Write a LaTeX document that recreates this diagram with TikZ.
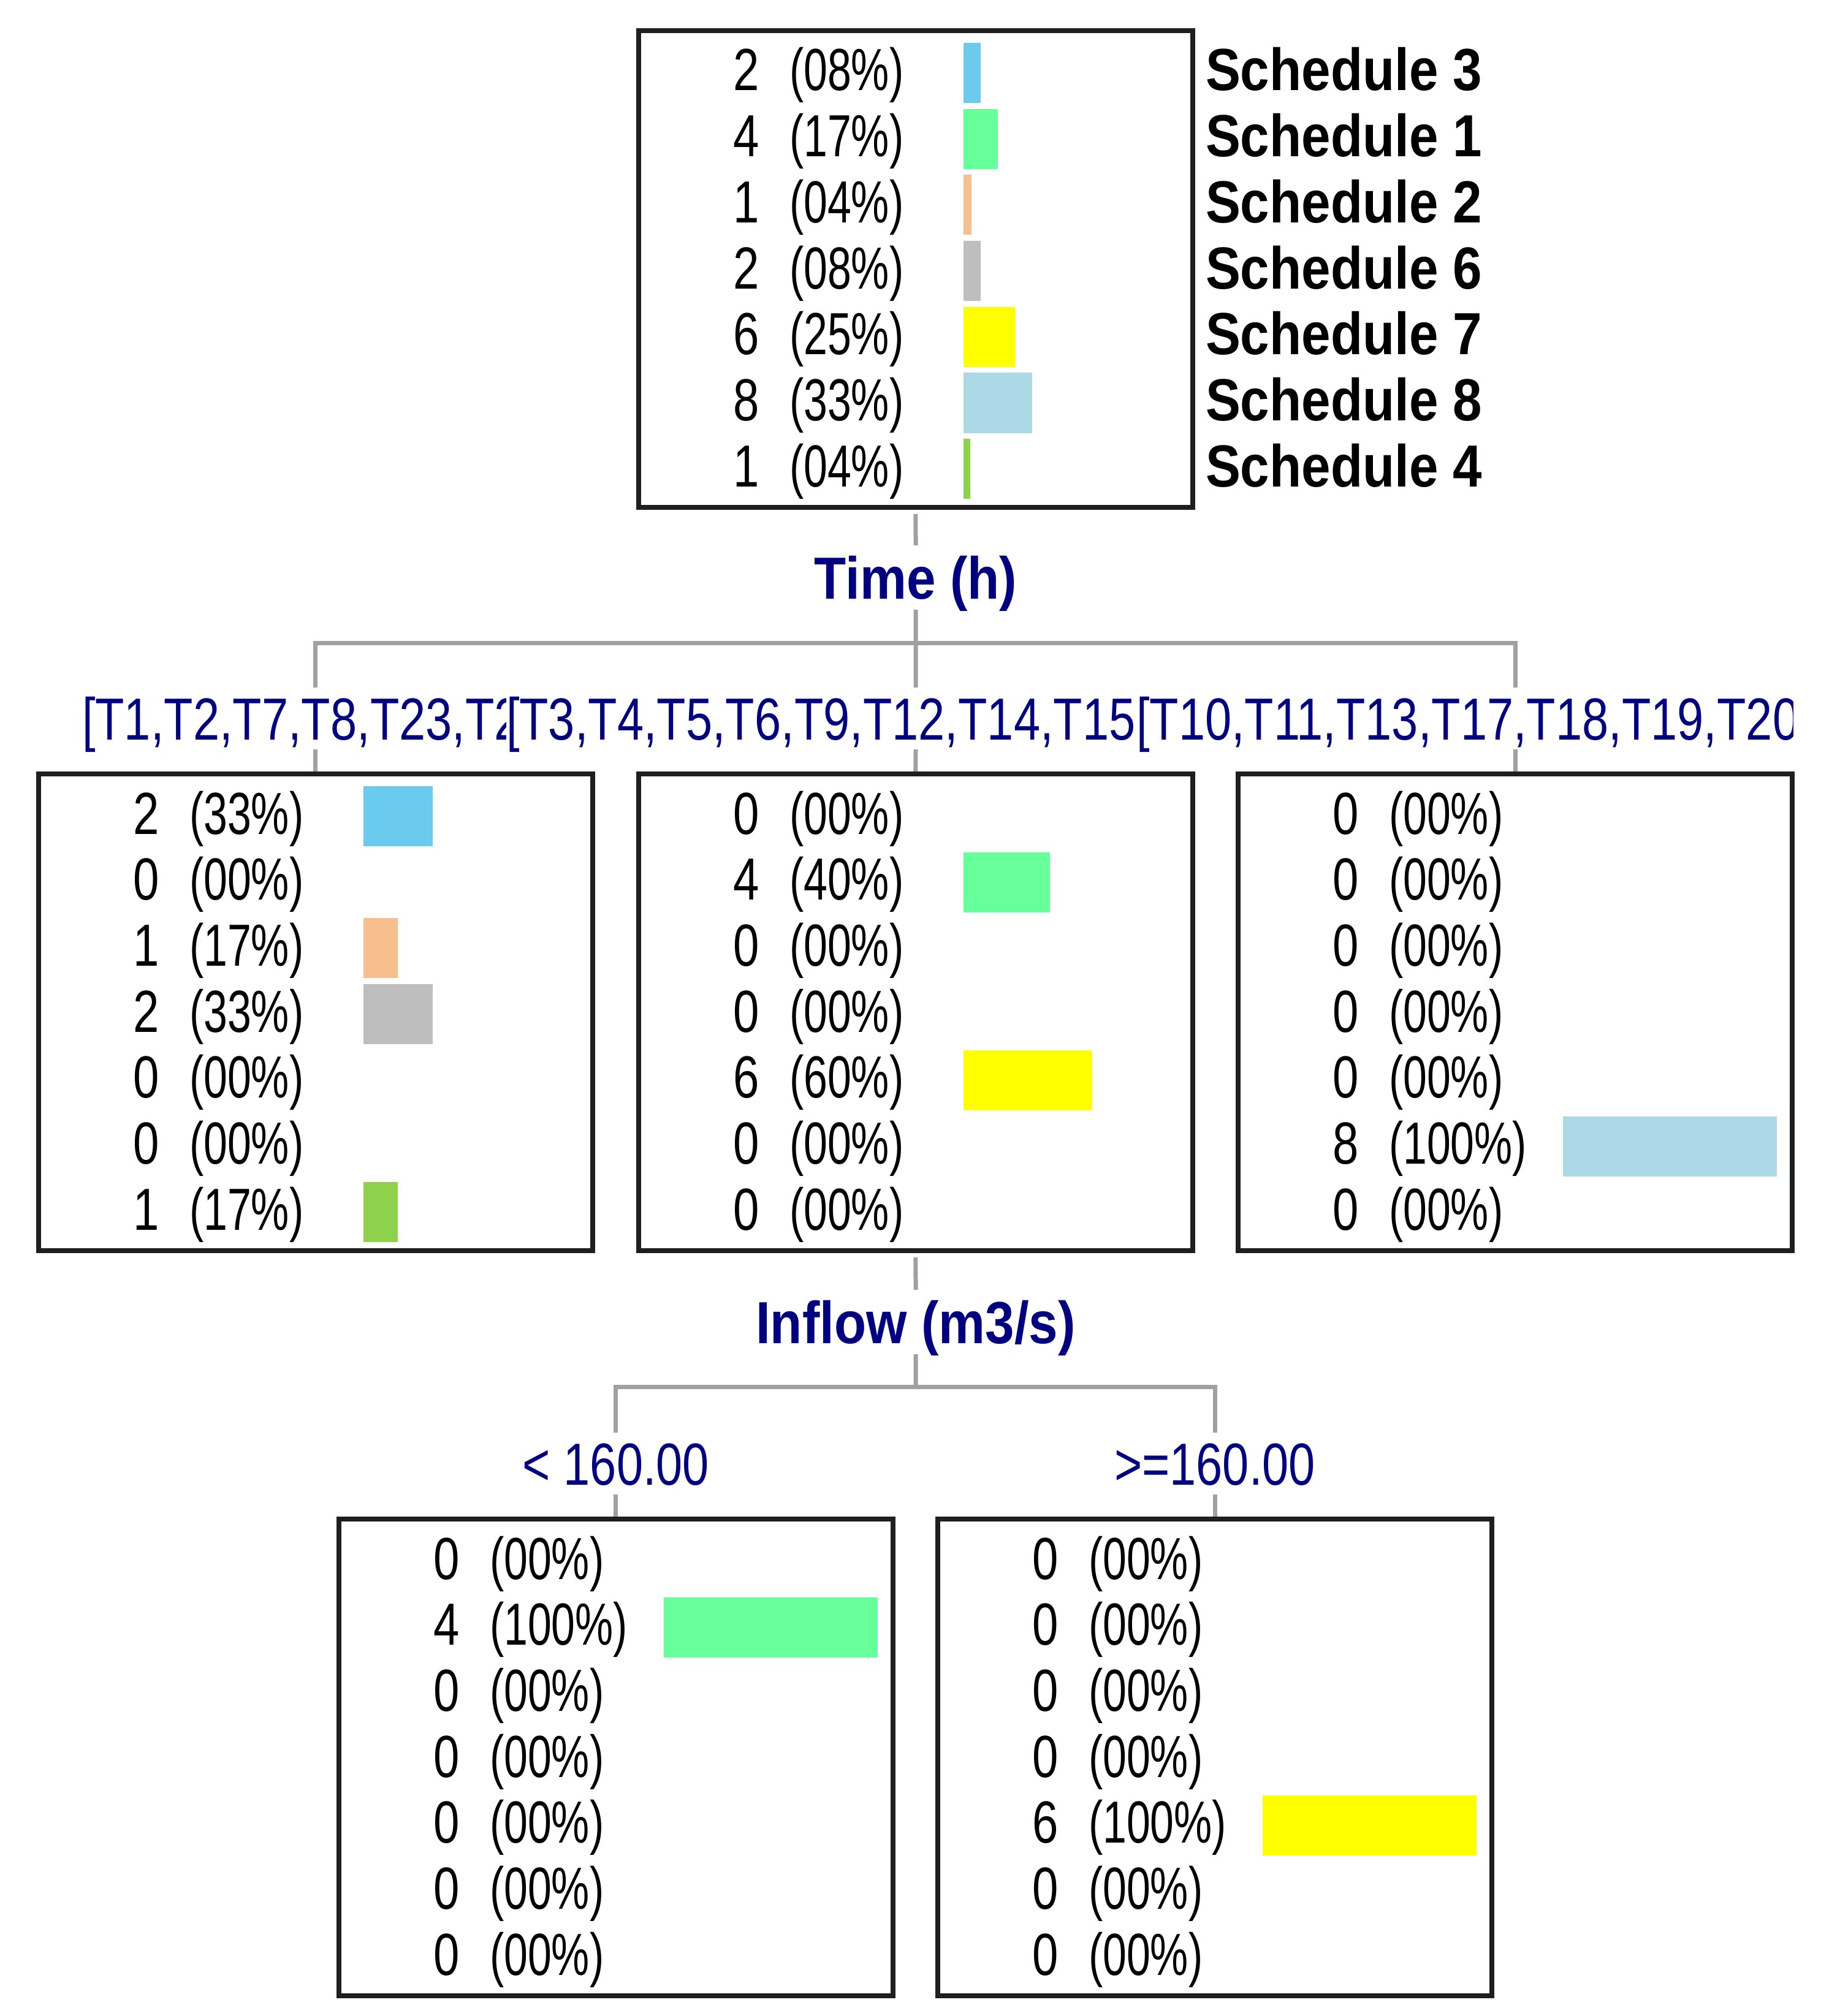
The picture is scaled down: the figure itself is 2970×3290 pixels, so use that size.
\documentclass[tikz,border=0pt]{standalone}
\usepackage{fontspec}
\usetikzlibrary{backgrounds}
\setmainfont{Liberation Sans}
\newfontfamily\nfont[FakeStretch=0.785]{Liberation Sans}
\newfontfamily\pfont[FakeStretch=0.72]{Liberation Sans}
\newfontfamily\lfont[FakeStretch=0.80]{Liberation Sans}
\newfontfamily\bfont[FakeStretch=0.88]{Liberation Sans Bold}
\definecolor{navy}{RGB}{0,0,128}
\definecolor{sA}{RGB}{106,203,239}
\definecolor{sB}{RGB}{102,255,153}
\definecolor{sC}{RGB}{247,190,142}
\definecolor{sD}{RGB}{190,190,190}
\definecolor{sE}{RGB}{255,255,0}
\definecolor{sF}{RGB}{173,216,230}
\definecolor{sG}{RGB}{142,209,75}
\definecolor{connc}{RGB}{160,160,160}
\tikzset{
  panel/.style={draw=black!88, line width=0.8pt, minimum width=90.4pt, minimum height=77.8pt, inner sep=0pt, outer sep=0pt, anchor=north west},
  numtxt/.style={font=\nfont\fontsize{9.7}{10}\selectfont, text=black, inner sep=0pt},
  pcttxt/.style={font=\pfont\fontsize{9.7}{10}\selectfont, text=black, inner sep=0pt},
  schtxt/.style={font=\bfont\fontsize{9.7}{10}\selectfont, text=black, inner sep=0pt, anchor=base west},
  attr/.style={font=\bfont\fontsize{9.7}{10}\selectfont, text=navy, fill=white, inner xsep=0.6pt, inner ysep=0pt, text height=8.7pt, text depth=1.8pt, anchor=base},
  branch/.style={font=\lfont\fontsize{9.7}{10}\selectfont, text=navy, fill=white, inner xsep=0pt, inner ysep=0pt, text height=8.5pt, text depth=1.6pt},
  cn/.style={draw=connc, line width=0.7pt},
}
\newcommand\panelrows[4]{%
  \foreach \vn/\vp/\vw/\vc [count=\vi from 0] in {#4} {
    \node[numtxt, anchor=base east] (#1n\vi) at (#2+198, #3+98+107.7*\vi) {\vn};
    \node[pcttxt, anchor=base west] (#1p\vi) at (#2+243, #3+98+107.7*\vi) {(\vp\%)};
    \ifnum\vw>0 \fill[\vc] (#2+529, #3+20+107.7*\vi) rectangle ++(\vw, 98);\fi
  }%
}
\begin{document}
\begin{tikzpicture}[x=0.1pt,y=-0.1pt]
\useasboundingbox (0,0) rectangle (2970,3290);
% panels
\node[panel] (top) at (1042,50) {};
\node[panel] (cL) at (63,1263) {};
\node[panel] (cM) at (1042,1263) {};
\node[panel] (cR) at (2020,1263) {};
\node[panel] (bL) at (553,2479) {};
\node[panel] (bR) at (1530,2479) {};
% rows
\panelrows{top}{1043}{50}{2/08/28/sA,4/17/56/sB,1/04/13/sC,2/08/28/sD,6/25/84/sE,8/33/112/sF,1/04/11/sG}
\panelrows{cL}{64}{1263}{2/33/113/sA,0/00/0/sB,1/17/56/sC,2/33/113/sD,0/00/0/sE,0/00/0/sF,1/17/56/sG}
\panelrows{cM}{1043}{1263}{0/00/0/sA,4/40/141/sB,0/00/0/sC,0/00/0/sD,6/60/210/sE,0/00/0/sF,0/00/0/sG}
\panelrows{cR}{2021}{1263}{0/00/0/sA,0/00/0/sB,0/00/0/sC,0/00/0/sD,0/00/0/sE,8/100/349/sF,0/00/0/sG}
\panelrows{bL}{554}{2479}{0/00/0/sA,4/100/349/sB,0/00/0/sC,0/00/0/sD,0/00/0/sE,0/00/0/sF,0/00/0/sG}
\panelrows{bR}{1531}{2479}{0/00/0/sA,0/00/0/sB,0/00/0/sC,0/00/0/sD,6/100/349/sE,0/00/0/sF,0/00/0/sG}
% schedule legend
\foreach \s [count=\si from 0] in {3,1,2,6,7,8,4}
  \node[schtxt] (sch\si) at (1965, 148+107.7*\si) {Schedule \s};
% split labels
\node[attr] (time) at (1494,977) {Time (h)};
\node[branch, anchor=base west] (l1) at (132,1207) {[T1,T2,T7,T8,T23,T2};
\node[branch, anchor=base west] (l2) at (824,1207) {[T3,T4,T5,T6,T9,T12,T14,T15};
\begin{scope}
\clip (1852,1100) rectangle (2925,1240);
\node[branch, anchor=base west] (l3) at (1852,1207) {[T10,T11,T13,T17,T18,T19,T20};
\end{scope}
\node[attr] (inflow) at (1494,2192) {Inflow (m3/s)};
\node[branch, anchor=base] (lt) at (1005,2423) {< 160.00};
\node[branch, anchor=base] (ge) at (1982,2423) {>=160.00};
\coordinate (hub1) at (1494,1049);
\coordinate (hub2) at (1494,2263);
% connectors
\begin{scope}[on background layer]
\draw[cn] ([yshift=-1.1pt]top.south) -- (hub1);
\draw[cn] (cL.north) -- (cL.north |- hub1) -- (cR.north |- hub1) -- (cR.north);
\draw[cn] (hub1) -- (cM.north);
\draw[cn] ([yshift=-1.1pt]cM.south) -- (hub2);
\draw[cn] (bL.north) -- (bL.north |- hub2) -- (bR.north |- hub2) -- (bR.north);
\end{scope}
\end{tikzpicture}
\end{document}
